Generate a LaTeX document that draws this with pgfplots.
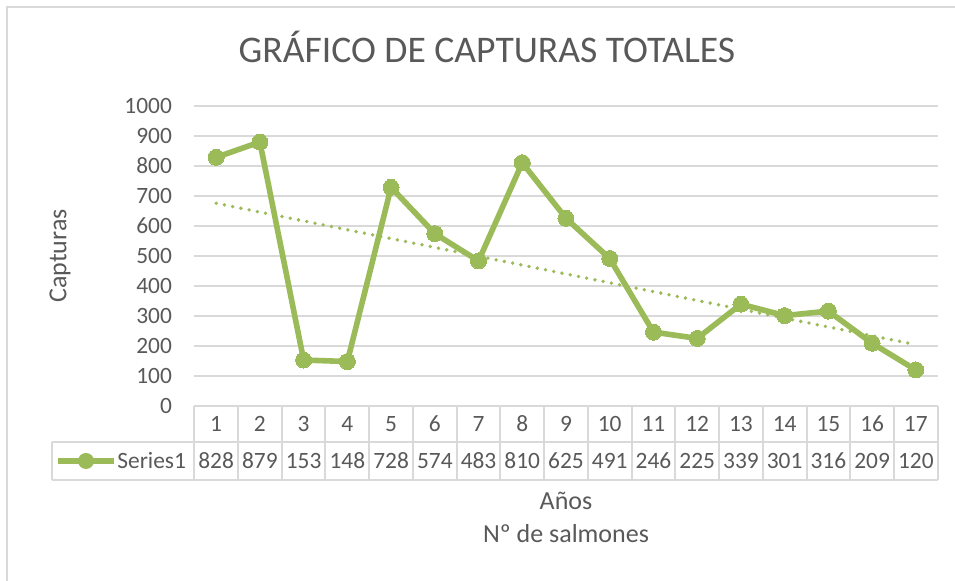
\documentclass[border=0pt]{standalone}
\usepackage{pgfplots}
\pgfplotsset{compat=1.18}
\usepackage{fontspec}
\setmainfont{Carlito}
\definecolor{serie}{HTML}{9BBB59}
\definecolor{texto}{HTML}{595959}
\definecolor{rejilla}{HTML}{D9D9D9}
\newcommand{\fs}[1]{\fontsize{#1}{#1}\selectfont}
\begin{document}
\begin{tikzpicture}[x=0.5pt,y=0.5pt]
\useasboundingbox (0,0) rectangle (955,581);
% chart border (only left and top visible)
\draw[rejilla, line width=1pt] (7,0) -- (7,574) -- (955,574);
\begin{axis}[
  at={(97.15pt,87.5pt)}, anchor=south west,
  scale only axis, width=371.7pt, height=150.15pt,
  xmin=0.5, xmax=17.5, ymin=0, ymax=1000,
  ytick={0,100,...,1000}, xtick=\empty,
  axis line style={draw=none},
  ymajorgrids, grid style={rejilla, line width=1pt},
  major tick length=0pt,
  /pgf/number format/assume math mode=true,
  /pgf/number format/1000 sep={},
  yticklabel style={font=\fs{11.7pt}, text=texto, inner sep=0pt, xshift=-11pt},
  clip=false]
\addplot[serie, line width=2.8pt, mark=*, mark size=4pt,
  mark options={fill=serie, draw=serie, line width=0pt}]
  coordinates {(1,828) (2,879) (3,153) (4,148) (5,728) (6,574) (7,483)
    (8,810) (9,625) (10,491) (11,246) (12,225) (13,339) (14,301)
    (15,316) (16,209) (17,120)};
% linear trend line
\addplot[serie, line width=1.9pt, line cap=round, dash pattern=on 0pt off 4.2pt]
  coordinates {(1,675.1) (17,204.3)};
\end{axis}
% data table
\begin{scope}[rejilla, line width=1pt]
  \draw (194.3,175) -- (937.7,175);
  \draw (51.7,139) -- (937.7,139);
  \draw (51.7,101) -- (937.7,101);
  \draw (51.7,139) -- (51.7,101);
  \foreach \k in {0,...,17} \draw ({194.3+\k*43.73},175) -- ({194.3+\k*43.73},101);
\end{scope}
\foreach \v [count=\i] in {1,...,17}
  \node[text=texto, font=\fs{11.7pt}] at ({194.3+(\i-0.5)*43.73},157) {\v};
\foreach \v [count=\i] in {828,879,153,148,728,574,483,810,625,491,246,225,339,301,316,209,120}
  \node[text=texto, font=\fs{11.7pt}] at ({194.3+(\i-0.5)*43.73},120) {\v};
% legend key
\draw[serie, line width=2.8pt] (58,120) -- (114,120);
\fill[serie] (86,120) circle (4pt);
\node[text=texto, font=\fs{11.7pt}, anchor=west, inner sep=0pt] at (117,120) {Series1};
% titles
\node[text=texto, font=\fs{18.8pt}, anchor=base] at (487,518) {GRÁFICO DE CAPTURAS TOTALES};
\node[text=texto, font=\fs{13pt}, rotate=90] at (60,325) {Capturas};
\node[text=texto, font=\fs{13pt}, anchor=base] at (566,71) {Años};
\node[text=texto, font=\fs{13pt}, anchor=base] at (566,38) {Nº de salmones};
\end{tikzpicture}
\end{document}
